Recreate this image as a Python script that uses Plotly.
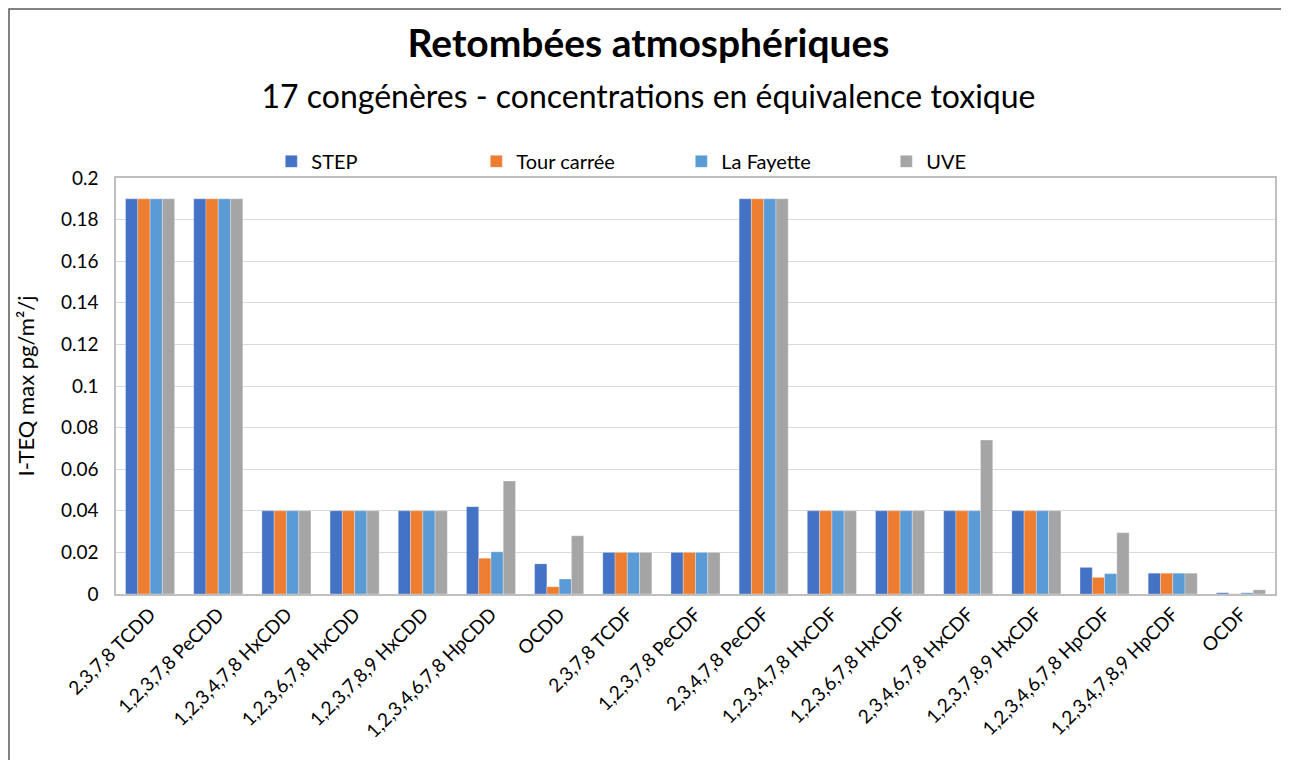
import plotly.graph_objects as go

congeners = [
    "2,3,7,8 TCDD", "1,2,3,7,8 PeCDD", "1,2,3,4,7,8 HxCDD", "1,2,3,6,7,8 HxCDD",
    "1,2,3,7,8,9 HxCDD", "1,2,3,4,6,7,8 HpCDD", "OCDD", "2,3,7,8 TCDF",
    "1,2,3,7,8 PeCDF", "2,3,4,7,8 PeCDF", "1,2,3,4,7,8 HxCDF", "1,2,3,6,7,8 HxCDF",
    "2,3,4,6,7,8 HxCDF", "1,2,3,7,8,9 HxCDF", "1,2,3,4,6,7,8 HpCDF",
    "1,2,3,4,7,8,9 HpCDF", "OCDF",
]

step = [0.19, 0.19, 0.04, 0.04, 0.04, 0.042, 0.0145, 0.02, 0.02, 0.19,
        0.04, 0.04, 0.04, 0.04, 0.0128, 0.01, 0.0006]
tour_carree = [0.19, 0.19, 0.04, 0.04, 0.04, 0.0172, 0.0035, 0.02, 0.02, 0.19,
               0.04, 0.04, 0.04, 0.04, 0.008, 0.01, 0.0001]
la_fayette = [0.19, 0.19, 0.04, 0.04, 0.04, 0.0203, 0.0072, 0.02, 0.02, 0.19,
              0.04, 0.04, 0.04, 0.04, 0.0098, 0.01, 0.0006]
uve = [0.19, 0.19, 0.04, 0.04, 0.04, 0.0543, 0.028, 0.02, 0.02, 0.19,
       0.04, 0.04, 0.074, 0.04, 0.0295, 0.01, 0.002]

y_ticks = [0, 0.02, 0.04, 0.06, 0.08, 0.1, 0.12, 0.14, 0.16, 0.18, 0.2]

FONT = "Lato, 'Open Sans', sans-serif"

series = [
    ("STEP", step, "#4472C4"),
    ("Tour carrée", tour_carree, "#ED7D31"),
    ("La Fayette", la_fayette, "#5B9BD5"),
    ("UVE", uve, "#A5A5A5"),
]

fig = go.Figure()
for name, vals, color in series:
    fig.add_trace(go.Bar(
        x=congeners, y=vals, name=name,
        marker=dict(color=color, line=dict(color="rgba(255,255,255,0.5)", width=0.6)),
    ))

# the page body adds an 8px offset, so the figure is a little smaller
fig.update_layout(
    width=1281, height=752,
    paper_bgcolor="white", plot_bgcolor="white",
    margin=dict(l=108, r=14, t=170, b=166, autoexpand=False),
    barmode="group", bargap=0.28, bargroupgap=0,
    font=dict(family=FONT, color="#404040"),
    title=dict(
        text="<b>Retombées atmosphériques</b><br>"
             "<span style='font-size:32px'>17 congénères - concentrations en équivalence toxique</span>",
        x=0.5, xanchor="center", y=0.935, yanchor="top",
        font=dict(size=39, color="black", family=FONT),
    ),
    legend=dict(
        orientation="h", x=0.134, xanchor="left", y=1.04, yanchor="middle",
        entrywidth=160, entrywidthmode="pixels",
        font=dict(size=20, color="black", family=FONT),
        itemwidth=30, bgcolor="rgba(0,0,0,0)",
    ),
    xaxis=dict(
        tickangle=-45, tickfont=dict(size=19, color="black"),
        showline=True, linecolor="#BFBFBF", linewidth=1.5, mirror=True,
        ticks="", automargin=False,
    ),
    yaxis=dict(
        range=[0, 0.2], tickvals=y_ticks,
        ticktext=[f"{v:g}" for v in y_ticks],
        tickfont=dict(size=19, color="black"),
        gridcolor="#D9D9D9", gridwidth=1.2,
        showline=True, linecolor="#BFBFBF", linewidth=1.5, mirror=True,
        zeroline=False, ticks="", ticklabelstandoff=12, automargin=False,
        title=dict(text="I-TEQ max pg/m²/j", font=dict(size=22, color="black"), standoff=20),
    ),
)

# outer chart frame
fig.add_shape(type="rect", xref="paper", yref="paper",
              x0=-107 / 1159, x1=(1279 - 108) / 1159, y0=-0.5, y1=585 / 416,
              line=dict(color="#595959", width=1.5), layer="below")

fig.write_html("out.html")
